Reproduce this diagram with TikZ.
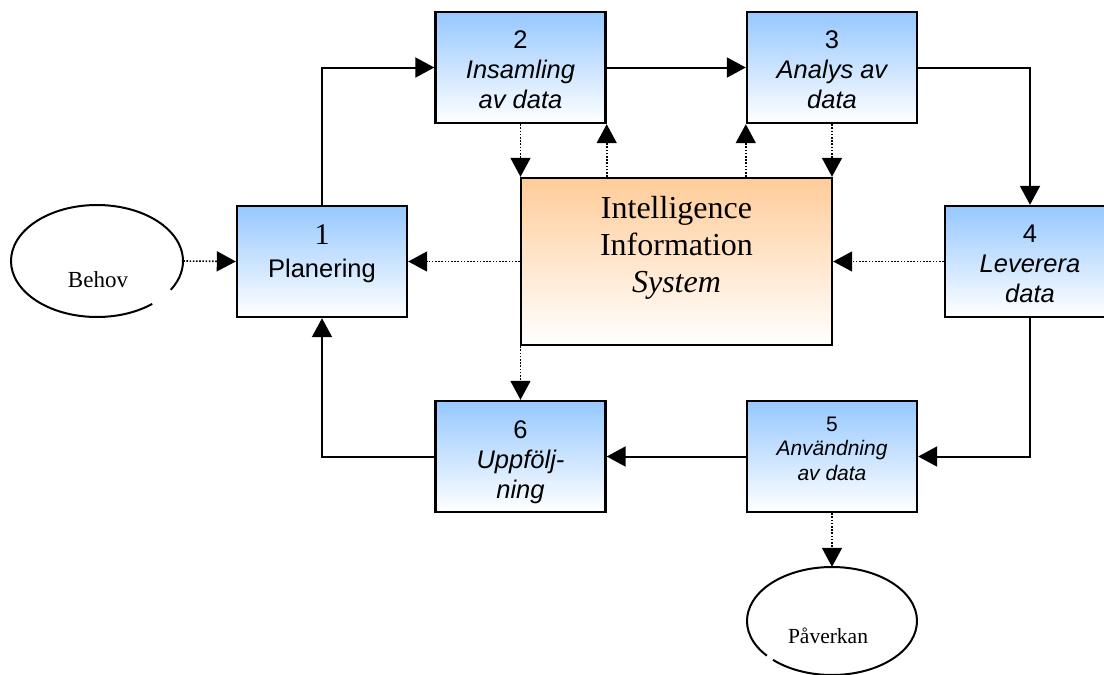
\documentclass[tikz,border=0pt]{standalone}
\usepackage{fontspec}
\setmainfont{Liberation Serif}
\newfontfamily\arialfont{Liberation Sans}
\usetikzlibrary{arrows.meta,shapes.geometric}
\definecolor{boxblue}{RGB}{150,200,255}
\definecolor{boxorange}{RGB}{255,204,153}
% top-aligned, centred text block of a fixed size: height, width, top gap, text
\newcommand\boxlines[4]{\parbox[c][#1][t]{#2}{\centering\vspace*{#3}#4}}
\tikzset{
  stagebox/.style={draw, line width=2.4pt, rectangle, inner sep=0pt,
    top color=boxblue, bottom color=white,
    minimum width=170pt, minimum height=111pt,
    font=\arialfont\fontsize{25.5}{30}\selectfont},
  corebox/.style={draw, line width=2.4pt, rectangle, inner sep=0pt,
    top color=boxorange, bottom color=white,
    minimum width=311pt, minimum height=167pt,
    font=\fontsize{32}{37}\selectfont},
  oval/.style={ellipse, inner sep=0pt, draw=none},
  flow/.style={line width=2pt, -{Triangle[length=19pt,width=20pt]}},
  feed/.style={line width=1.6pt, dash pattern=on 1.6pt off 1.6pt,
    -{Triangle[length=19pt,width=20pt]}},
  ovalline/.style={line width=2pt},
}
\begin{document}
\begin{tikzpicture}[x=1pt,y=-1pt]
\useasboundingbox (0,0) rectangle (1104,675);
\fill[white] (0,0) rectangle (1104,675);
\clip (0,0) rectangle (1104,675);

% stage boxes
\node[stagebox] (b1) at (322,261.5)
  {\boxlines{111pt}{170pt}{19pt}{\textrm{\fontsize{30}{30}\selectfont 1}\\[3pt]Planering}};
\node[stagebox] (b2) at (520.5,67.5)
  {\boxlines{111pt}{170pt}{19pt}{2\\\itshape Insamling\\av data}};
\node[stagebox] (b3) at (832,67.5)
  {\boxlines{111pt}{170pt}{19pt}{3\\\itshape Analys av\\data}};
\node[stagebox] (b4) at (1030,261.5)
  {\boxlines{111pt}{170pt}{19pt}{4\\\itshape Leverera\\data}};
\node[stagebox, font=\arialfont\fontsize{21}{24.5}\selectfont] (b5) at (832,456.5)
  {\boxlines{111pt}{170pt}{16pt}{5\\\itshape Användning\\av data}};
\node[stagebox] (b6) at (520.5,456.5)
  {\boxlines{111pt}{170pt}{20pt}{6\\\itshape Uppfölj-\\ning}};

% central system
\node[corebox] (iis) at (676.5,261.5)
  {\boxlines{167pt}{311pt}{18pt}{Intelligence\\Information\\\itshape System}};

% input and outcome ovals (outlines broken where the label box covers them)
\node[oval, minimum width=172pt, minimum height=112pt] (behov) at (97,261) {};
\draw[ovalline] (behov.center) ++(50:86 and 56)
  arc[start angle=50, end angle=391, x radius=86, y radius=56];
\node[font=\fontsize{23}{27}\selectfont] (behovtxt) at (98,279.5) {Behov};

\node[oval, minimum width=170pt, minimum height=108pt] (pav) at (832,621) {};
\draw[ovalline] (pav.center) ++(140:85 and 54)
  arc[start angle=140, end angle=494, x radius=85, y radius=54];
\node[font=\fontsize{21.5}{25}\selectfont] (pavtxt) at (828,636) {Påverkan};

% main cycle
\draw[flow] (b1.north) |- (b2.west);
\draw[flow] (b2.east) -- (b3.west);
\draw[flow] (b3.east) -| (b4.north);
\draw[flow] (b4.south) |- (b5.east);
\draw[flow] (b5.west) -- (b6.east);
\draw[flow] (b6.west) -| (b1.south);

% exchanges with the system
\draw[feed] (behov.east) -- (b1.west);
\draw[feed] (iis.west) -- (b1.east);
\draw[feed] (b4.west) -- (iis.east);
\draw[feed] (b2.south) -- (b2.south |- iis.north);
\draw[feed] (b2.south east |- iis.north) -- (b2.south east);
\draw[feed] (b3.south west |- iis.north) -- (b3.south west);
\draw[feed] (b3.south) -- (b3.south |- iis.north);
\draw[feed] (b6.north |- iis.south) -- (b6.north);
\draw[feed] (b5.south) -- (pav.north);
\end{tikzpicture}
\end{document}
